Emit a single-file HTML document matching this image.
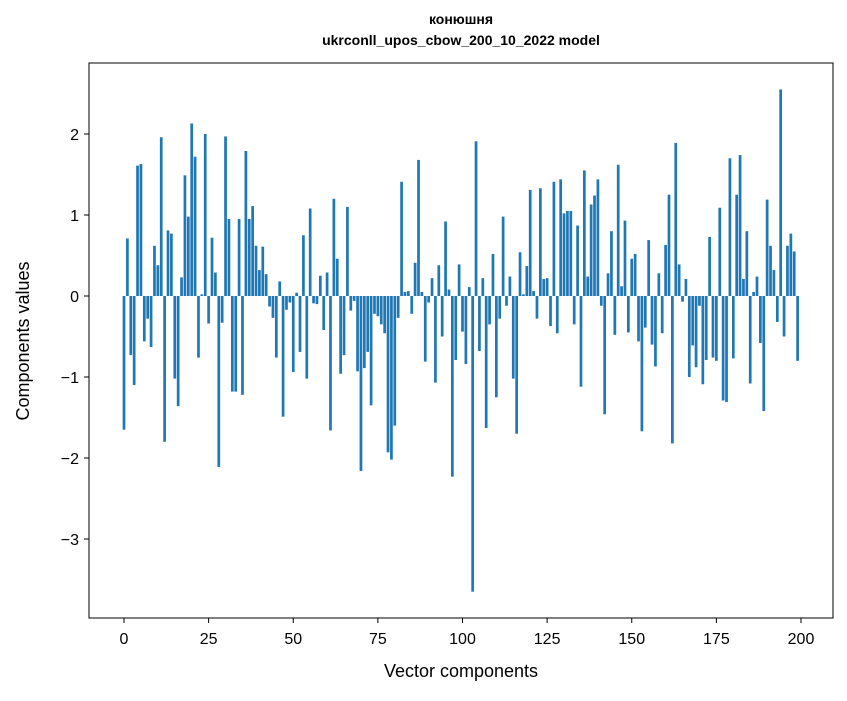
<!DOCTYPE html>
<html><head><meta charset="utf-8"><style>
body{margin:0;background:#fff;width:847px;height:696px;overflow:hidden}
svg text{font-family:"Liberation Sans","DejaVu Sans",sans-serif;fill:#000}
</style></head><body>
<svg id="chart" width="847" height="696" xmlns="http://www.w3.org/2000/svg">
<text x="461" y="24" font-size="14" font-weight="bold" text-anchor="middle">конюшня</text>
<text x="461" y="45" font-size="14" font-weight="bold" text-anchor="middle">ukrconll_upos_cbow_200_10_2022 model</text>
<g id="bars"></g>
<rect x="89" y="63" width="744" height="555" fill="none" stroke="#000" stroke-width="1"/>
<g id="xticks"></g>
<g id="yticks"></g>
<text x="461" y="677" font-size="18" text-anchor="middle">Vector components</text>
<text x="0" y="0" font-size="18" text-anchor="middle" transform="translate(29,341) rotate(-90)">Components values</text>
</svg>
<script>
const values=[-1.65,0.71,-0.73,-1.1,1.61,1.63,-0.56,-0.28,-0.63,0.62,0.38,1.96,-1.8,0.81,0.77,-1.02,-1.36,0.23,1.49,0.98,
2.13,1.72,-0.76,0.02,2.0,-0.34,0.72,0.29,-2.11,-0.33,1.97,0.95,-1.18,-1.18,0.95,-1.22,1.79,0.95,1.11,0.62,
0.32,0.61,0.27,-0.13,-0.27,-0.76,0.18,-1.49,-0.17,-0.08,-0.94,0.04,-0.69,0.75,-1.02,1.08,-0.09,-0.1,0.25,-0.42,
0.29,-1.66,1.2,0.46,-0.96,-0.73,1.1,-0.18,-0.06,-0.93,-2.16,-0.89,-0.69,-1.35,-0.22,-0.25,-0.35,-0.46,-1.93,-2.02,
-1.6,-0.27,1.41,0.05,0.06,-0.22,0.41,1.68,0.05,-0.81,-0.08,0.22,-1.07,0.38,-0.5,0.92,0.08,-2.23,-0.79,0.39,
-0.44,-0.84,0.11,-3.65,1.91,-0.68,0.22,-1.63,-0.35,0.52,-1.25,-0.28,0.98,-0.12,0.24,-1.02,-1.7,0.54,0.02,0.37,
1.31,0.06,-0.28,1.33,0.21,0.22,-0.37,1.41,-0.46,1.44,1.02,1.05,1.05,-0.35,0.87,-1.12,1.55,0.24,1.13,1.24,
1.44,-0.12,-1.46,0.28,0.8,-0.48,1.62,0.12,0.93,-0.45,0.46,0.52,-0.56,-1.67,-0.39,0.69,-0.6,-0.87,0.28,-0.46,
0.63,1.25,-1.82,1.89,0.39,-0.07,0.21,-1.0,-0.61,-0.88,-0.12,-1.09,-0.79,0.73,-0.76,-0.8,1.09,-1.29,-1.31,1.7,
-0.77,1.25,1.74,0.21,0.8,-1.08,0.05,0.24,-0.58,-1.42,1.19,0.62,0.32,-0.32,2.55,-0.5,0.62,0.77,0.55,-0.8];
const xTicks=[0,25,50,75,100,125,150,175,200];
const yTicks=[-3,-2,-1,0,1,2];
const NS="http://www.w3.org/2000/svg";
function xs(v){return 124+v*3.385;}
function ys(v){return 296-v*81;}
const bars=document.getElementById('bars');
values.forEach((v,i)=>{
 const r=document.createElementNS(NS,'rect');
 
 
 const x0=xs(i-0.4),x1=xs(i+0.4);
 r.setAttribute('x',x0);r.setAttribute('width',x1-x0);
 r.setAttribute('y',Math.min(ys(v),ys(0)));r.setAttribute('height',Math.abs(ys(v)-ys(0)));
 r.setAttribute('fill','#1f77b4');
 bars.appendChild(r);
});
const xg=document.getElementById('xticks');
xTicks.forEach(t=>{
 const l=document.createElementNS(NS,'line');
 
 
 l.setAttribute('x1',xs(t));l.setAttribute('x2',xs(t));l.setAttribute('y1',618);l.setAttribute('y2',623);l.setAttribute('stroke','#000');
 xg.appendChild(l);
 const tx=document.createElementNS(NS,'text');
 
 
 tx.setAttribute('x',xs(t));tx.setAttribute('y',644);tx.setAttribute('font-size','16');tx.setAttribute('text-anchor','middle');
 tx.textContent=t;xg.appendChild(tx);
});
const yg=document.getElementById('yticks');
yTicks.forEach(t=>{
 const l=document.createElementNS(NS,'line');
 
 
 l.setAttribute('x1',84);l.setAttribute('x2',89);l.setAttribute('y1',ys(t));l.setAttribute('y2',ys(t));l.setAttribute('stroke','#000');
 yg.appendChild(l);
 const tx=document.createElementNS(NS,'text');
 
 
 tx.setAttribute('x',79);tx.setAttribute('y',ys(t)+6);tx.setAttribute('font-size','16');tx.setAttribute('text-anchor','end');
 tx.textContent=t<0?'\u2212'+Math.abs(t):t;yg.appendChild(tx);
});
</script>
</body></html>
